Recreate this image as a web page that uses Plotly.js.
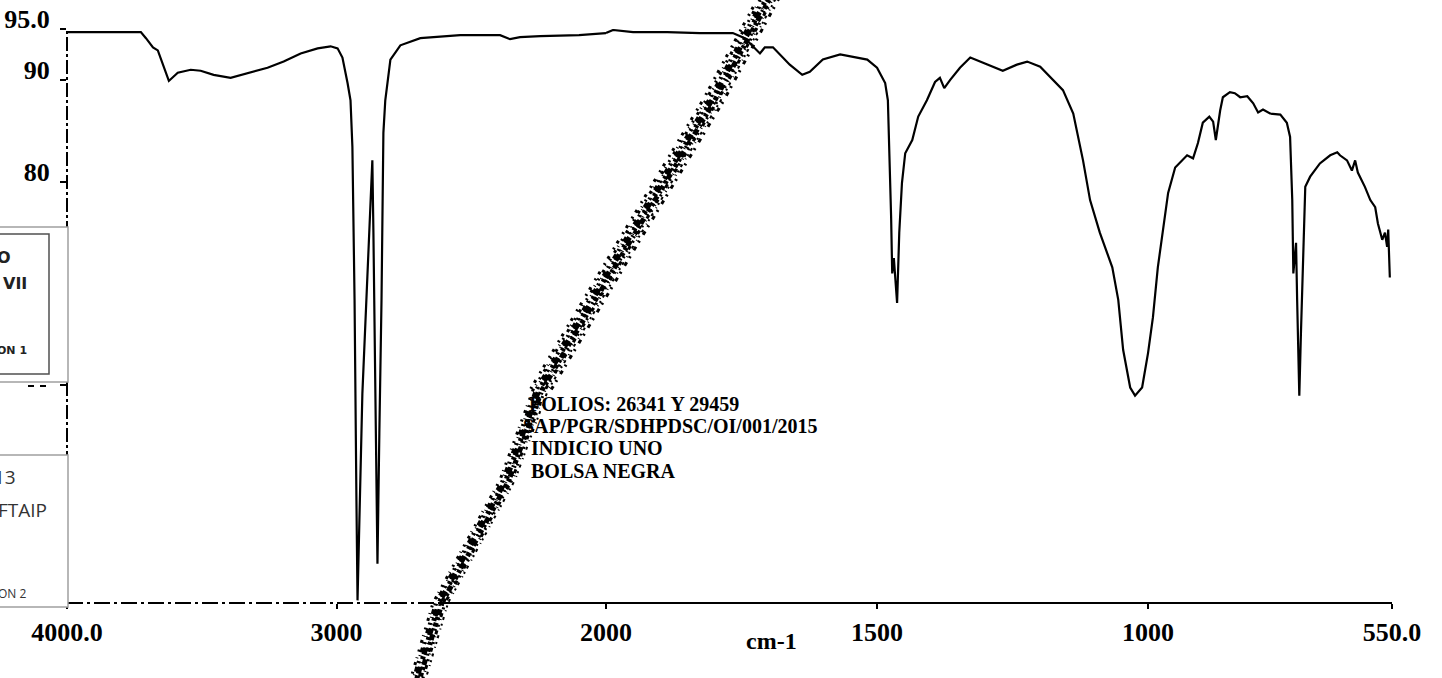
<!DOCTYPE html>
<html>
<head>
<meta charset="utf-8">
<script src="https://cdn.plot.ly/plotly-3.0.1.min.js"></script>
<style>html,body{margin:0;padding:0;background:#fff;}#chart{width:1442px;height:678px;}</style>
</head>
<body>
<div id="chart"></div>
<script>
// ---- data (wavenumber cm-1, %T) ----
const wnHigh = [4000,3726,3707,3681,3663,3641,3622,3589,3541,3504,3456,3393,3319,3256,3196,3133,3070,3022,2996,2978,2959,2948,2941,2933,2926,2922,2904,2885,2874,2867,2863,2856,2848,2841,2833,2826,2819,2800,2763,2689,2541,2393,2356,2319,2244,2100,2022,2000];
const tHigh = [94.7,94.7,94.1,93.2,92.9,91.3,89.9,90.7,91.0,90.9,90.5,90.2,90.7,91.2,91.8,92.6,93.1,93.3,93.1,92.2,89.7,88.0,83.4,68.4,48.7,38.9,59.2,71.6,78.2,82.1,75.0,58.6,42.5,55.3,68.4,84.8,88.0,92.0,93.4,94.1,94.4,94.4,94.0,94.2,94.3,94.4,94.5,94.6];
const wnLow = [2000,1987,1950,1887,1827,1766,1744,1734,1716,1707,1692,1661,1638,1624,1600,1568,1537,1518,1500,1485,1480,1478,1476,1474,1472,1469,1463,1459,1454,1448,1435,1424,1408,1393,1384,1376,1365,1347,1328,1304,1286,1268,1242,1223,1199,1175,1157,1138,1120,1107,1089,1066,1055,1046,1033,1024,1011,1000,991,982,972,963,950,928,917,908,899,887,880,875,867,862,849,840,830,817,806,797,788,775,756,744,738,734,732,727,725,721,718,714,710,701,683,664,651,646,633,624,618,613,600,590,581,576,568,563,559,557,555,554];
const tLow = [94.6,94.9,94.7,94.7,94.6,94.6,94.1,93.6,92.6,93.2,93.2,91.5,90.5,90.8,92.0,92.5,92.2,92.0,91.2,89.7,88.0,84.8,81.4,76.5,71.0,72.5,68.1,75.0,79.9,82.8,84.1,86.4,88.0,89.8,90.2,89.2,90.0,91.2,92.2,91.7,91.3,90.9,91.5,91.8,91.3,90.0,89.0,86.7,82.1,78.2,75.0,71.6,68.4,63.5,59.8,59.0,59.8,63.2,66.7,71.6,75.5,78.9,81.4,82.6,82.3,83.8,85.8,86.4,85.9,84.1,87.0,88.3,88.8,88.7,88.3,88.4,87.7,86.8,87.1,86.7,86.6,85.8,84.4,78.2,71.0,74.0,68.4,59.0,65.1,73.0,79.5,80.5,81.8,82.6,82.9,82.6,82.1,81.1,82.1,80.9,79.5,78.2,77.5,75.9,74.3,75.0,73.6,75.3,73.0,70.6];

const xTickValsHigh = [4000,3000];
const xTickTextHigh = ['4000.0','3000'];
const xTickValsLow = [2000,1500,1000,550];
const xTickTextLow = ['2000','1500','1000','550.0'];
const yTickVals = [95,90,80,70,60,50,40];
// labels 70-40 are covered by the pasted boxes in the reference
const yTickText = ['95.0','90','80','','','',''];
const xTitle = 'cm-1';
const noteLines = ['FOLIOS: 26341 Y 29459','SAP/PGR/SDHPDSC/OI/001/2015','INDICIO UNO','BOLSA NEGRA'];

// ---- geometry ----
const L = 67, R = 1392, T = 29, B = 603;
const W = R - L, H = B - T;
const split = (606 - L) / W;
const X = px => (px - L) / W;
const Y = py => (B - py) / H;
const serif = 'Liberation Serif';

const tickFont = {family: serif, size: 26, color: '#000', weight: 'bold'};

const traces = [
  {x: wnHigh, y: tHigh, xaxis: 'x', yaxis: 'y', type: 'scatter', mode: 'lines',
   line: {color: '#000', width: 2.2}, hoverinfo: 'skip'},
  {x: wnLow, y: tLow, xaxis: 'x2', yaxis: 'y', type: 'scatter', mode: 'lines',
   line: {color: '#000', width: 2.2}, hoverinfo: 'skip'}
];

const axCommon = {showgrid: false, zeroline: false, showline: false, ticks: 'outside',
  ticklen: 5, tickwidth: 2, tickcolor: '#000', anchor: 'y', fixedrange: true,
  tickmode: 'array', ticklabelstandoff: 1, tickfont: tickFont};

// speckled diagonal scan streak (decoration)
const streak = [[790,-40],[767,0],[713,100],[623,250],[540,390],[507,480],[440,603],[418,678],[410,710]];
const streakTop = streak.slice(0, 5);
const pathOf = (pts, dx) => pts.map((p,i) => (i ? 'L' : 'M') + X(p[0]+dx).toFixed(5) + ',' + Y(p[1]).toFixed(5)).join(' ');
const streakLayers = [
  {pts: streak, dx: -7, w: 3, dash: '2px,6px,1px,4px,3px,7px'},
  {pts: streak, dx: -4, w: 4, dash: '5px,3px,1px,5px,2px,4px'},
  {pts: streak, dx: -1, w: 5, dash: '7px,2px,3px,3px,1px,4px'},
  {pts: streak, dx: 2, w: 5, dash: '4px,2px,2px,4px,6px,2px,3px,3px'},
  {pts: streak, dx: 5, w: 3, dash: '2px,4px,4px,2px,1px,5px'},
  {pts: streak, dx: 8, w: 2, dash: '1px,6px,3px,4px,2px,3px'},
  {pts: streakTop, dx: -10, w: 3, dash: '3px,5px,2px,8px'},
  {pts: streakTop, dx: 11, w: 3, dash: '2px,5px,4px,7px'}
];

const shapes = [];
// axis lines
shapes.push({type: 'line', xref: 'paper', yref: 'paper', x0: 0, x1: 0, y0: 0, y1: 1,
  line: {color: '#000', width: 2, dash: '14px,3px,3px,3px'}});
shapes.push({type: 'line', xref: 'paper', yref: 'paper', x0: 0, x1: X(440), y0: 0, y1: 0,
  line: {color: '#000', width: 2, dash: '16px,4px,3px,4px'}});
shapes.push({type: 'line', xref: 'paper', yref: 'paper', x0: X(440), x1: 1, y0: 0, y1: 0,
  line: {color: '#000', width: 2}});
streakLayers.forEach(s => shapes.push({type: 'path', xref: 'paper', yref: 'paper', layer: 'above',
  path: pathOf(s.pts, s.dx), line: {color: '#000', width: s.w, dash: s.dash}}));
// left pasted boxes
const box = (x0, y0, x1, y1, col, w) => ({type: 'rect', xref: 'paper', yref: 'paper', layer: 'above',
  x0: X(x0), x1: X(x1), y0: Y(y1), y1: Y(y0), fillcolor: '#fff', line: {color: col, width: w}});
shapes.push(box(-5, 227, 68, 382, '#a0a0a0', 1.5));
shapes.push(box(-5, 234, 49, 374, '#505050', 1.5));
shapes.push(box(-5, 455, 68, 607, '#a0a0a0', 1.5));
// small scan marks just under box 1
[[28,34],[40,46]].forEach(m => shapes.push({type: 'line', xref: 'paper', yref: 'paper', layer: 'above',
  x0: X(m[0]), x1: X(m[1]), y0: Y(386), y1: Y(386), line: {color: '#000', width: 2}}));

const ann = (px, py, text, font, xanchor) => ({xref: 'paper', yref: 'paper', x: X(px), y: Y(py),
  text: text, showarrow: false, xanchor: xanchor || 'right', yanchor: 'middle', font: font});
const boldSans = s => ({family: 'DejaVu Sans', size: s, color: '#222', weight: 'bold'});
const regSans = s => ({family: 'Open Sans', size: s, color: '#333'});
const noteFont = {family: serif, size: 20, color: '#000', weight: 'bold'};

const annotations = [
  ann(13, 257, 'O', boldSans(16)),
  ann(29, 283, 'VII', boldSans(16)),
  ann(29, 350, 'ON 1', boldSans(11)),
  ann(18, 477, '13', regSans(19)),
  ann(49, 510, 'FTAIP', regSans(19)),
  ann(28, 593, 'ON 2', regSans(12)),
  ann(771, 641, xTitle, {family: serif, size: 24, color: '#000', weight: 'bold'}, 'center'),
  ann(527, 404, noteLines[0], noteFont, 'left'),
  ann(521, 426, noteLines[1], noteFont, 'left'),
  ann(529, 448, noteLines[2], noteFont, 'left'),
  ann(529, 471, noteLines[3], noteFont, 'left')
];

const layout = {
  width: 1442, height: 678,
  margin: {l: L, r: 1442 - R, t: T, b: 678 - B, pad: 0},
  paper_bgcolor: '#fff', plot_bgcolor: '#fff',
  showlegend: false,
  xaxis: Object.assign({}, axCommon, {domain: [0, split], range: [4000, 2000],
    tickvals: xTickValsHigh, ticktext: xTickTextHigh}),
  xaxis2: Object.assign({}, axCommon, {domain: [split, 1], range: [2000, 550],
    tickvals: xTickValsLow, ticktext: xTickTextLow}),
  yaxis: {domain: [0, 1], range: [38.64, 95], showgrid: false, zeroline: false, showline: false,
    ticks: 'outside', ticklen: 6, tickwidth: 2, tickcolor: '#000', tickmode: 'array',
    tickvals: yTickVals, ticktext: yTickText, tickfont: tickFont, ticklabelstandoff: 5,
    ticklabelshift: -10, fixedrange: true},
  shapes: shapes,
  annotations: annotations
};

Plotly.newPlot('chart', traces, layout, {displayModeBar: false, staticPlot: true});
</script>
</body>
</html>
